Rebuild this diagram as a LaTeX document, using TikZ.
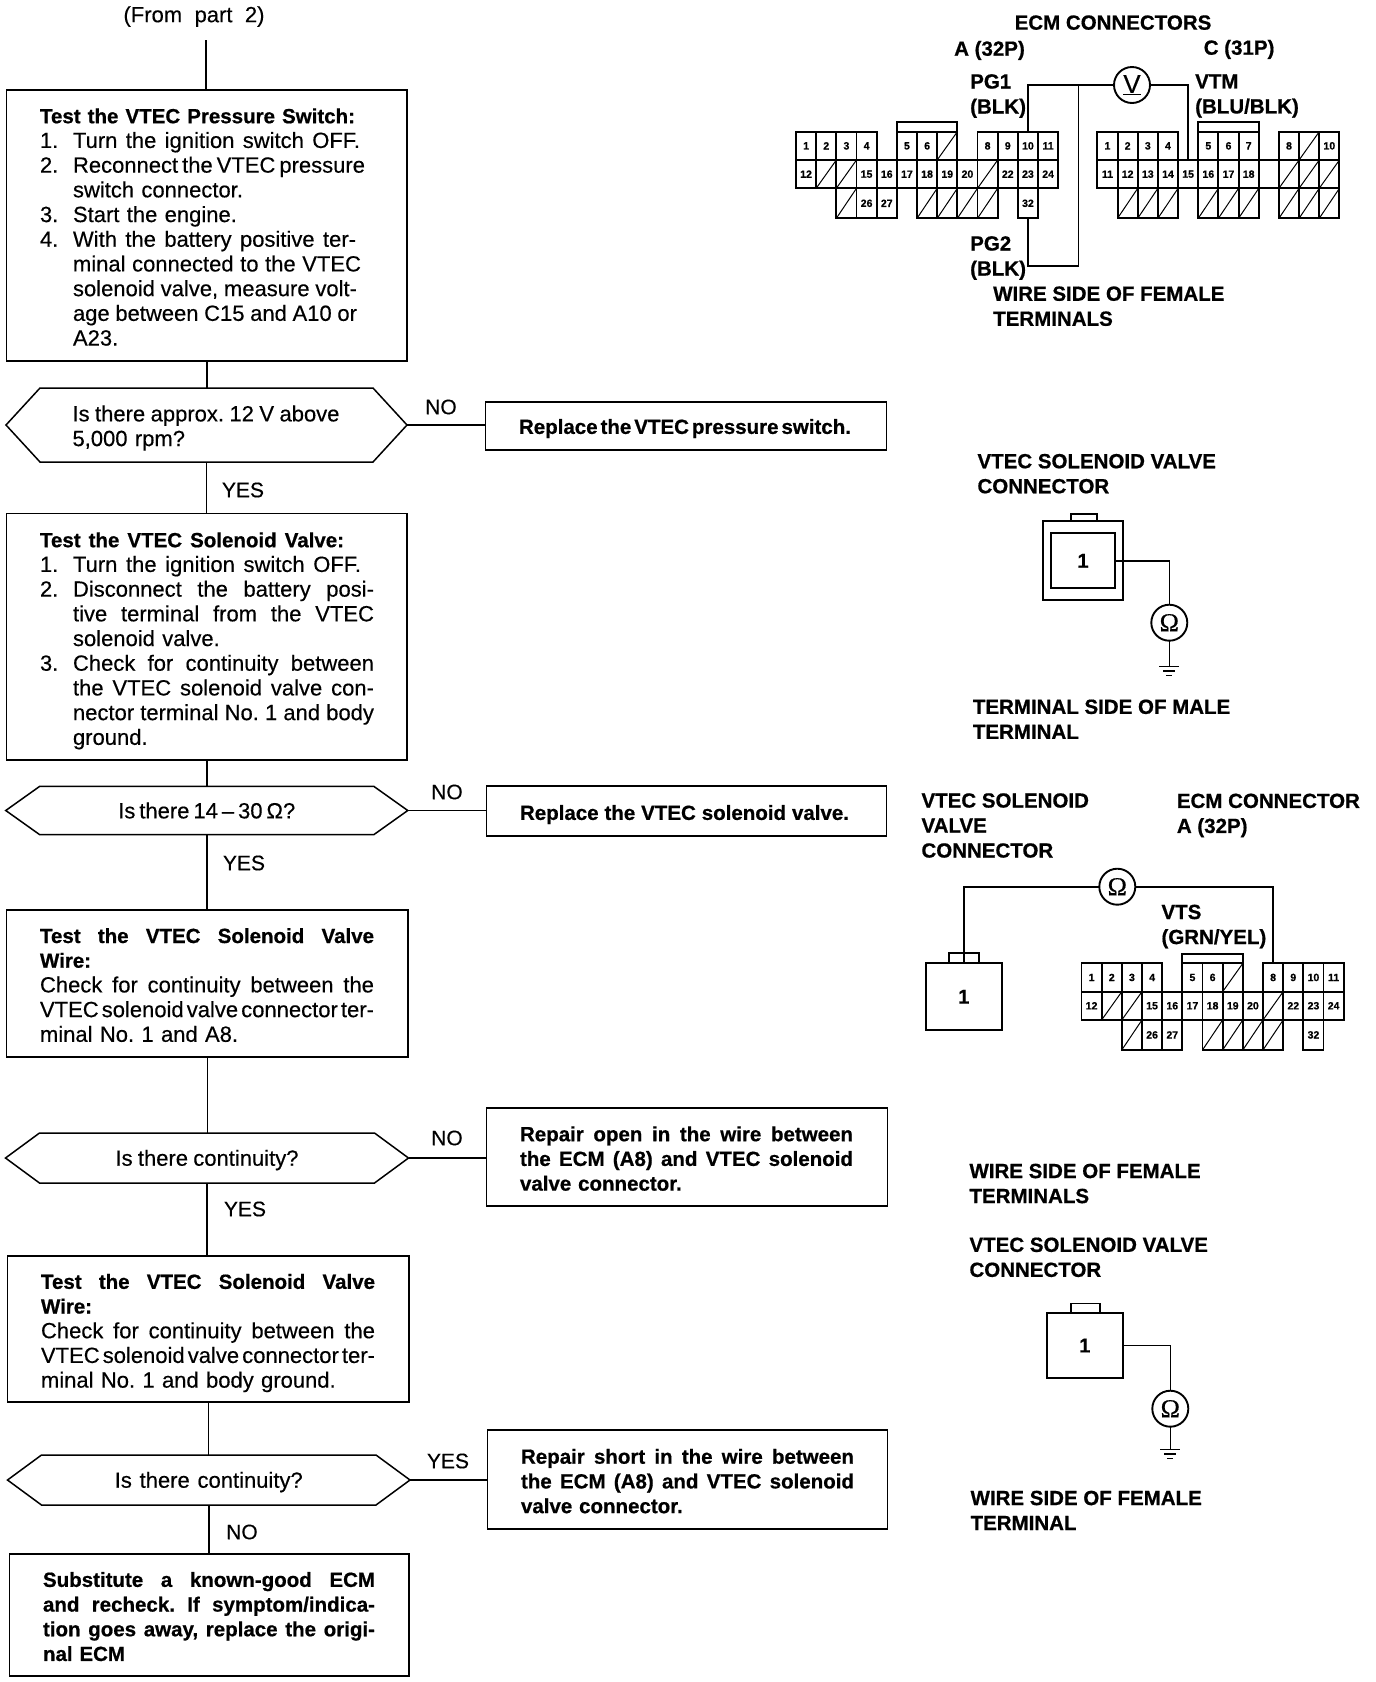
\documentclass[tikz,border=0pt]{standalone}
\usepackage{fontspec}
\setmainfont{Liberation Sans}[FakeBold=0.35,BoldFeatures={FakeBold=0.7}]
\newfontfamily\serifom{Liberation Serif}[FakeBold=0.5]
\AtBeginDocument{\frenchspacing}
\newcommand\J[2]{\leavevmode\hbox to #1pt{\spaceskip=0.27em plus 1fil minus .2em\relax #2\unskip}}
\newcommand\li[2]{\makebox[33pt][l]{#1}#2}
\newcommand\ind{\hspace*{33pt}}
\newcommand\up[1]{\rule{0pt}{#1pt}}
\newcommand\hexdraw[1]{\draw[flowline] (#1.west) -- ([xshift=34pt]#1.north west) -- ([xshift=-34pt]#1.north east) -- (#1.east) -- ([xshift=-34pt]#1.south east) -- ([xshift=34pt]#1.south west) -- cycle;}
\newcommand\cells[4]{\foreach \c/\t in {#4}{\node[cellbox,minimum height=#3pt] (#1\t) at ({\c*20.17+10.08},#2) {\t};}}
\newcommand\hatch[5]{\foreach \c in {#5}{\node[cellbox,minimum height=#4pt] (#1#2\c) at ({\c*20.17+10.08},#3) {};\draw[hatchline] (#1#2\c.south west) -- (#1#2\c.north east);}}
\newcommand\ecmA[3]{\begin{scope}[shift={(#2,#3)}]
\cells{#1}{14.15}{28.3}{0/1,1/2,2/3,3/4,5/5,6/6,9/8,10/9,11/10,12/11}
\hatch{#1}{a}{14.15}{28.3}{7}
\cells{#1}{42.45}{28.3}{0/12,3/15,4/16,5/17,6/18,7/19,8/20,10/22,11/23,12/24}
\hatch{#1}{b}{42.45}{28.3}{1,2,9}
\cells{#1}{71.6}{30}{3/26,4/27,11/32}
\hatch{#1}{c}{71.6}{30}{2,6,7,8,9}
\draw[cellline] (#15.north west) -- ++(0,-9.3) -| (#1a7.north east);
\end{scope}}
\tikzset{
 x=1pt,y=-1pt,
 flowline/.style={line width=1.5pt,line join=miter},
 flowbox/.style={draw,line width=1.5pt,inner xsep=33.5pt,inner ysep=0pt,outer sep=0pt,align=left,font=\fontsize{22}{24.7}\selectfont},
 hexbox/.style={inner xsep=0pt,inner ysep=0pt,outer sep=0pt,align=left,font=\fontsize{22}{24.7}\selectfont},
 result/.style={flowbox,font=\fontsize{20.5}{24.7}\selectfont\bfseries},
 tag/.style={inner sep=0pt,font=\fontsize{21}{25}\selectfont},
 lbl/.style={inner sep=0pt,anchor=west,align=left,font=\fontsize{20.5}{25}\selectfont\bfseries},
 cellbox/.style={draw,line width=1.9pt,inner sep=0pt,outer sep=0pt,minimum width=20.17pt,font=\fontsize{10.5}{11}\selectfont\bfseries},
 cellline/.style={line width=1.9pt},
 hatchline/.style={line width=1pt},
 wire/.style={line width=1.6pt},
 meter/.style={draw,circle,line width=1.9pt,inner sep=0pt,outer sep=0pt,minimum size=36pt,font=\fontsize{26}{26}\selectfont},
 conn/.style={draw,line width=1.9pt,inner sep=0pt,outer sep=0pt,font=\fontsize{20}{20}\selectfont\bfseries},
 gbar/.style={line width=1.5pt}
}
\begin{document}
\begin{tikzpicture}
\useasboundingbox (0,0) rectangle (1376,1682);
\fill[white] (0,0) rectangle (1376,1682);
% ---------- flow chart
\node[tag,font=\fontsize{22}{25}\selectfont] (from) at (194,16.5) {\J{141}{(From part 2)}};
\coordinate (start) at (205.8,40);
\node[flowbox,minimum width=400.5pt,minimum height=271pt,text width=333.5pt] (b1) at (206.75,225.5) {\up{18}\J{315}{\textbf{\fontsize{20.5}{24.7}\selectfont Test the VTEC Pressure Switch:}}\\
\li{1.}{\J{287}{Turn the ignition switch OFF.}}\\
\li{2.}{\J{292}{Reconnect the VTEC pressure}}\\
\ind switch connector.\\
\li{3.}{Start the engine.}\\
\li{4.}{\J{283}{With the battery positive ter-}}\\
\ind\J{288}{minal connected to the VTEC}\\
\ind\J{284}{solenoid valve, measure volt-}\\
\ind\J{284}{age between C15 and A10 or}\\
\ind A23.};
\node[hexbox,minimum width=401pt,minimum height=74pt,text width=268pt] (d1) at (206.5,425) {\up{22}\J{267}{Is there approx. 12 V above}\\5,000 rpm?};
\hexdraw{d1}
\node[result,minimum width=401pt,minimum height=48pt,text width=334pt] (r1) at (686,426) {\up{20}\J{332}{Replace the VTEC pressure switch.}};
\node[tag] (no1) at (441,407) {NO};
\node[tag] (yes1) at (243,490) {YES};
\node[flowbox,minimum width=400.5pt,minimum height=246.4pt,text width=333.5pt] (b2) at (206.75,636.8) {\up{23}\J{304}{\textbf{\fontsize{20.5}{24.7}\selectfont Test the VTEC Solenoid Valve:}}\\
\li{1.}{\J{288}{Turn the ignition switch OFF.}}\\
\li{2.}{\J{301}{Disconnect the battery posi-}}\\
\ind\J{301}{tive terminal from the VTEC}\\
\ind solenoid valve.\\
\li{3.}{\J{301}{Check for continuity between}}\\
\ind\J{301}{the VTEC solenoid valve con-}\\
\ind\J{301}{nector terminal No. 1 and body}\\
\ind ground.};
\node[hexbox,minimum width=402pt,minimum height=48.4pt,align=center] (d2) at (206.75,810.5) {\J{177}{Is there 14 -- 30 Ω?}};
\hexdraw{d2}
\node[result,minimum width=400pt,minimum height=50pt,text width=333pt] (r2) at (686.5,811) {\up{22}\J{329}{Replace the VTEC solenoid valve.}};
\node[tag] (no2) at (447,792) {NO};
\node[tag] (yes2) at (244,863) {YES};
\node[flowbox,minimum width=401.5pt,minimum height=147pt,text width=334.5pt] (b3) at (207.25,983.5) {\up{18}\J{334}{\textbf{\fontsize{20.5}{24.7}\selectfont Test the VTEC Solenoid Valve}}\\
\textbf{\fontsize{20.5}{24.7}\selectfont Wire:}\\
\J{334}{Check for continuity between the}\\
\J{334}{VTEC solenoid valve connector ter-}\\
minal No. 1 and A8.};
\node[hexbox,minimum width=403pt,minimum height=50pt,align=center] (d3) at (207,1158) {\up{20}\J{183}{Is there continuity?}};
\hexdraw{d3}
\node[result,minimum width=401pt,minimum height=98pt,text width=334pt] (r3) at (687,1157) {\up{18}\J{333}{Repair open in the wire between}\\\J{333}{the ECM (A8) and VTEC solenoid}\\valve connector.};
\node[tag] (no3) at (447,1138) {NO};
\node[tag] (yes3) at (245,1209) {YES};
\node[flowbox,minimum width=401.5pt,minimum height=146pt,text width=334.5pt] (b4) at (208.25,1329) {\up{23}\J{334}{\textbf{\fontsize{20.5}{24.7}\selectfont Test the VTEC Solenoid Valve}}\\
\textbf{\fontsize{20.5}{24.7}\selectfont Wire:}\\
\J{334}{Check for continuity between the}\\
\J{334}{VTEC solenoid valve connector ter-}\\
minal No. 1 and body ground.};
\node[hexbox,minimum width=402.5pt,minimum height=50pt,align=center] (d4) at (208.75,1480) {\up{20}\J{188}{Is there continuity?}};
\hexdraw{d4}
\node[result,minimum width=400pt,minimum height=99pt,text width=333pt] (r4) at (687.5,1479.5) {\up{18}\J{333}{Repair short in the wire between}\\\J{333}{the ECM (A8) and VTEC solenoid}\\valve connector.};
\node[tag] (yes4) at (448,1461) {YES};
\node[tag] (no4) at (242,1532) {NO};
\node[result,minimum width=399.5pt,minimum height=122pt,text width=332.5pt] (b5) at (209.25,1615) {\up{18}\J{332}{Substitute a known-good ECM}\\\J{332}{and recheck. If symptom/indica-}\\\J{332}{tion goes away, replace the origi-}\\nal ECM};
% flow connectors
\draw[flowline] (start) -- (start |- b1.north);
\draw[flowline] (b1.south) -- (b1.south |- d1.north);
\draw[flowline] (d1.south) -- (d1.south |- b2.north);
\draw[flowline] (b2.south) -- (b2.south |- d2.north);
\draw[flowline] (d2.south) -- (d2.south |- b3.north);
\draw[flowline] (b3.south) -- (b3.south |- d3.north);
\draw[flowline] (d3.south) -- (d3.south |- b4.north);
\draw[flowline] (b4.south) -- (b4.south |- d4.north);
\draw[flowline] (d4.south) -- (d4.south |- b5.north);
\draw[flowline] (d1.east) -- (d1.east -| r1.west);
\draw[flowline] (d2.east) -- (d2.east -| r2.west);
\draw[flowline] (d3.east) -- (d3.east -| r3.west);
\draw[flowline] (d4.east) -- (d4.east -| r4.west);
% ---------- ECM connectors, top right
\node[lbl] (t1) at (1014.5,22.6) {ECM CONNECTORS};
\node[lbl] (t2) at (954,50.4) {A (32P)};
\node[lbl] (t3) at (1203.6,49.4) {C (31P)};
\node[lbl] (t4) at (970,96) {PG1\\(BLK)};
\node[lbl] (t5) at (1195,96) {VTM\\(BLU/BLK)};
\node[lbl] (t6) at (970,258) {PG2\\(BLK)};
\node[lbl] (t7) at (993,306.2) {WIRE SIDE OF FEMALE\\TERMINALS};
\ecmA{A}{796}{131.7}
\begin{scope}[shift={(1097.4,131.7)}]
\cells{C}{14.15}{28.3}{0/1,1/2,2/3,3/4,5/5,6/6,7/7,9/8,11/10}
\hatch{C}{a}{14.15}{28.3}{10}
\cells{C}{42.45}{28.3}{0/11,1/12,2/13,3/14,4/15,5/16,6/17,7/18}
\hatch{C}{b}{42.45}{28.3}{9,10,11}
\hatch{C}{c}{71.6}{30}{1,2,3,5,6,7,9,10,11}
\draw[cellline] (C5.north west) -- ++(0,-9.3) -| (C7.north east);
\draw[cellline] (C18.north east) -- (Cb9.north west);
\draw[cellline] (C18.south east) -- (Cb9.south west);
\end{scope}
\node[meter] (vm) at (1132,85) {\underline{V}};
\coordinate (j1) at (1078.5,85);
\coordinate (j2) at (1078.5,265.7);
\draw[wire] (vm.west) -| (A10.north);
\draw[wire] (j1) -- (j2) -| (A32.south);
\draw[wire] (vm.east) -| (C15.north);
% ---------- solenoid valve connector, terminal side
\node[lbl] (t8) at (977.3,473.7) {VTEC SOLENOID VALVE\\CONNECTOR};
\node[conn,minimum width=80.6pt,minimum height=79pt] (s1o) at (1083,560.5) {};
\node[conn,minimum width=64.6pt,minimum height=55pt] (s1i) at (1083,560.8) {1};
\node[conn,minimum width=25.7pt,minimum height=7pt] (s1t) at (1083.9,517.5) {};
\node[meter] (om1) at (1169.3,622.7) {\serifom Ω};
\coordinate (g1) at (1169.3,666.7);
\draw[wire] (s1i.east) -| (om1.north);
\draw[wire] (om1.south) -- (g1);
\draw[gbar] ([xshift=-10pt]g1) -- ([xshift=10pt]g1);
\draw[gbar] ([xshift=-6pt,yshift=-4.5pt]g1) -- ([xshift=6pt,yshift=-4.5pt]g1);
\draw[gbar] ([xshift=-3pt,yshift=-9pt]g1) -- ([xshift=3pt,yshift=-9pt]g1);
\node[lbl] (t9) at (972.7,719.2) {TERMINAL SIDE OF MALE\\TERMINAL};
% ---------- continuity to ECM A
\node[lbl] (t10) at (921.3,825.5) {VTEC SOLENOID\\VALVE\\CONNECTOR};
\node[lbl] (t11) at (1176.7,815.4) {ECM CONNECTOR\\A (32P)};
\node[lbl] (t12) at (1161.3,926.5) {VTS\\(GRN/YEL)};
\ecmA{B}{1081.5}{963.3}
\node[conn,minimum width=75.7pt,minimum height=66.7pt] (s2) at (963.8,996.7) {1};
\node[conn,minimum width=30pt,minimum height=10pt] (s2t) at (964,958.3) {};
\node[meter] (om2) at (1117.3,886.7) {\serifom Ω};
\draw[wire] (om2.west) -| (s2.north);
\draw[wire] (om2.east) -| (B8.north);
% ---------- body ground check
\node[lbl] (t13) at (969.3,1183.5) {WIRE SIDE OF FEMALE\\TERMINALS};
\node[lbl] (t14) at (969.3,1257.3) {VTEC SOLENOID VALVE\\CONNECTOR};
\node[conn,minimum width=76.3pt,minimum height=65pt] (s3) at (1084.8,1345.5) {1};
\node[conn,minimum width=29pt,minimum height=9.5pt] (s3t) at (1085.9,1308.2) {};
\node[meter] (om3) at (1170.3,1408.7) {\serifom Ω};
\coordinate (g3) at (1170.3,1449.6);
\draw[wire] (s3.east) -| (om3.north);
\draw[wire] (om3.south) -- (g3);
\draw[gbar] ([xshift=-10pt]g3) -- ([xshift=10pt]g3);
\draw[gbar] ([xshift=-6pt,yshift=-4.5pt]g3) -- ([xshift=6pt,yshift=-4.5pt]g3);
\draw[gbar] ([xshift=-3pt,yshift=-9pt]g3) -- ([xshift=3pt,yshift=-9pt]g3);
\node[lbl] (t15) at (970.4,1510.4) {WIRE SIDE OF FEMALE\\TERMINAL};
\end{tikzpicture}
\end{document}
